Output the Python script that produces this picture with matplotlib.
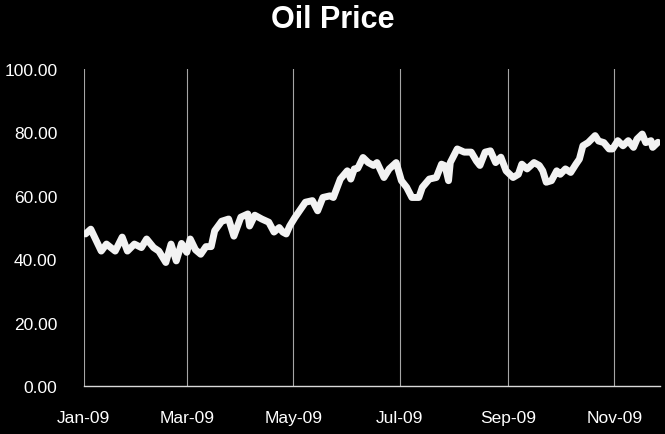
import matplotlib

matplotlib.use("Agg")
import matplotlib.pyplot as plt
import matplotlib.dates as mdates
import pandas as pd

# dates and prices (2009)
dates = [
    "01-02", "01-05", "01-11", "01-14", "01-19", "01-23", "01-26", "01-30",
    "02-03", "02-06", "02-10", "02-13", "02-17", "02-20", "02-23", "02-26",
    "03-01", "03-03", "03-06", "03-09", "03-12", "03-15", "03-17", "03-21",
    "03-25", "03-28", "04-01", "04-05", "04-06", "04-09", "04-13", "04-17",
    "04-20", "04-23", "04-25", "04-27", "04-29", "05-02", "05-08", "05-12",
    "05-15", "05-18", "05-22", "05-24", "05-28", "06-01", "06-03", "06-05",
    "06-07", "06-10", "06-13", "06-16", "06-18", "06-22", "06-25", "06-29",
    "07-02", "07-05", "07-08", "07-12", "07-14", "07-18", "07-22", "07-25",
    "07-27", "07-29", "07-30", "08-03", "08-07", "08-11", "08-14", "08-16",
    "08-19", "08-22", "08-25", "08-28", "08-31", "09-04", "09-07", "09-09",
    "09-12", "09-16", "09-19", "09-21", "09-23", "09-26", "09-29", "10-01",
    "10-04", "10-07", "10-10", "10-12", "10-14", "10-17", "10-21", "10-23",
    "10-26", "10-29", "10-31", "11-03", "11-06", "11-09", "11-12", "11-14",
    "11-17", "11-19", "11-22", "11-23", "11-26",
]
prices = [
    48.0, 49.5, 42.6, 44.8, 42.6, 47.0, 42.6, 44.8,
    43.7, 46.4, 43.7, 42.6, 39.0, 44.8, 39.5, 45.0,
    42.2, 46.4, 43.0, 41.6, 44.0, 44.0, 49.0, 52.0,
    52.7, 47.3, 53.3, 54.3, 50.5, 53.9, 52.7, 51.7,
    48.6, 50.0, 48.6, 48.0, 50.5, 53.2, 58.0, 58.5,
    55.3, 59.5, 60.0, 59.5, 65.3, 67.9, 65.3, 68.5,
    68.7, 72.1, 70.5, 69.6, 70.5, 65.8, 68.5, 70.5,
    64.8, 62.7, 59.5, 59.5, 62.7, 65.3, 65.8, 70.0,
    69.5, 64.8, 70.5, 74.8, 73.8, 73.8, 71.0, 69.6,
    73.8, 74.2, 70.5, 72.2, 67.9, 65.8, 66.8, 70.0,
    68.5, 70.5, 69.6, 67.9, 64.3, 64.8, 67.9, 66.8,
    68.5, 67.4, 70.0, 71.6, 75.8, 76.8, 79.0, 77.3,
    76.8, 74.8, 74.8, 77.4, 75.8, 77.4, 75.3, 77.9,
    79.5, 76.8, 77.4, 75.3, 76.9,
]
y_ticks = [0, 20, 40, 60, 80, 100]

x = pd.to_datetime(["2009-" + d for d in dates])

plt.rcParams["font.family"] = ["Liberation Sans", "DejaVu Sans"]

fig = plt.figure(figsize=(6.65, 4.35), dpi=100, facecolor="black")
ax = fig.add_axes([0.126, 0.110, 0.866, 0.729], facecolor="black")

ax.plot(x, prices, color="#f2f2f2", linewidth=5, solid_joinstyle="round", solid_capstyle="round")

ax.set_ylim(0, 100)
ax.set_xlim(pd.Timestamp("2009-01-01"), pd.Timestamp("2009-11-27"))
ax.set_yticks(y_ticks)
ax.yaxis.set_major_formatter(plt.FuncFormatter(lambda v, _: f"{v:.2f}"))
ax.xaxis.set_major_locator(mdates.MonthLocator(bymonth=[1, 3, 5, 7, 9, 11]))
ax.xaxis.set_major_formatter(mdates.DateFormatter("%b-%y"))

ax.tick_params(axis="y", length=0, pad=19, labelsize=12.5, colors="white")
ax.tick_params(axis="x", length=0, pad=17, labelsize=12.5, colors="white")
ax.grid(True, axis="x", color="#a6a6a6", linewidth=0.8)

for side in ["left", "right", "top"]:
    ax.spines[side].set_visible(False)
ax.spines["bottom"].set_color("#d9d9d9")
ax.spines["bottom"].set_linewidth(1)

fig.text(0.5, 0.954, "Oil Price", ha="center", va="center", color="white",
         fontsize=22, fontweight="bold")

fig.savefig("out.png", dpi=100, facecolor="black")
